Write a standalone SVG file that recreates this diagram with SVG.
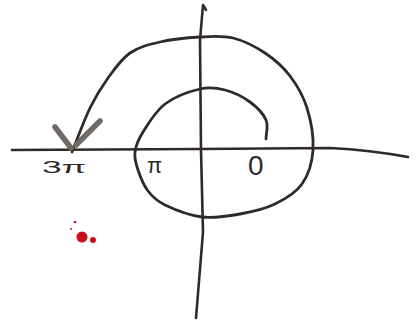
<svg xmlns="http://www.w3.org/2000/svg" width="416" height="325" viewBox="0 0 416 325">
<style>
.ink{fill:none;stroke:#2f2a28;stroke-linecap:round;stroke-linejoin:round}
.ax{stroke-width:2.6}
.sp{stroke-width:2.8}
.barb{fill:none;stroke:#6f6966;stroke-width:5.5;stroke-linecap:round}
.lbl{font-family:"Liberation Sans",Arial,sans-serif;fill:#2f2a28}
</style>
<rect width="416" height="325" fill="#ffffff"/>
<g id="axes">
<path class="ink ax" d="M12,150 L200,149 L330,148 Q370,150 408,157"/>
<path class="ink ax" d="M196,318 L203,232 L201,150 L200,40 L203,5 L206,10"/>
</g>
<g id="spiral">
<path class="ink sp" d="M266,139 C266,133 268.7,126.2 266,120 C263.3,113.8 256.8,107 250,102 C243.2,97 233.3,92.2 225,90 C216.7,87.8 210,86.7 200,89 C190,91.3 174.5,96.8 165,104 C155.5,111.2 148,124 143,132 C138,140 135.8,145.7 135,152 C134.2,158.3 135.8,163.5 138,170 C140.2,176.5 143.5,185.2 148,191 C152.5,196.8 156,200.7 165,205 C174,209.3 189.5,215.5 202,217 C214.5,218.5 227.8,216.2 240,214 C252.2,211.8 264.7,209 275,204 C285.3,199 295.7,193 302,184 C308.3,175 312.2,162.7 313,150 C313.8,137.3 310.8,120.3 307,108 C303.2,95.7 297,85.2 290,76 C283,66.8 274.5,59.3 265,53 C255.5,46.7 243.8,40.7 233,38 C222.2,35.3 212.2,36.3 200,37 C187.8,37.7 171.7,39.3 160,42 C148.3,44.7 138.7,47 130,53 C121.3,59 114.7,68.8 108,78 C101.3,87.2 96,95.7 90,108 C84,120.3 78,137.3 72,152"/>
<path class="barb" d="M55,127 L71,148 M100,121 L76,145"/>
</g>
<g id="labels">
<text class="lbl" x="42" y="173" font-size="16" textLength="44" lengthAdjust="spacingAndGlyphs">3π</text>
<text class="lbl" x="147" y="173" font-size="22">π</text>
<text class="lbl" x="248" y="175" font-size="28">0</text>
</g>
<g id="smudge">
<circle cx="82" cy="237" r="5.5" fill="#c8101a"/>
<circle cx="93" cy="240" r="3" fill="#c8101a"/>
<circle cx="75" cy="222" r="1.3" fill="#b0202a"/>
<circle cx="71" cy="229" r="1" fill="#b0202a"/>
</g>
</svg>
